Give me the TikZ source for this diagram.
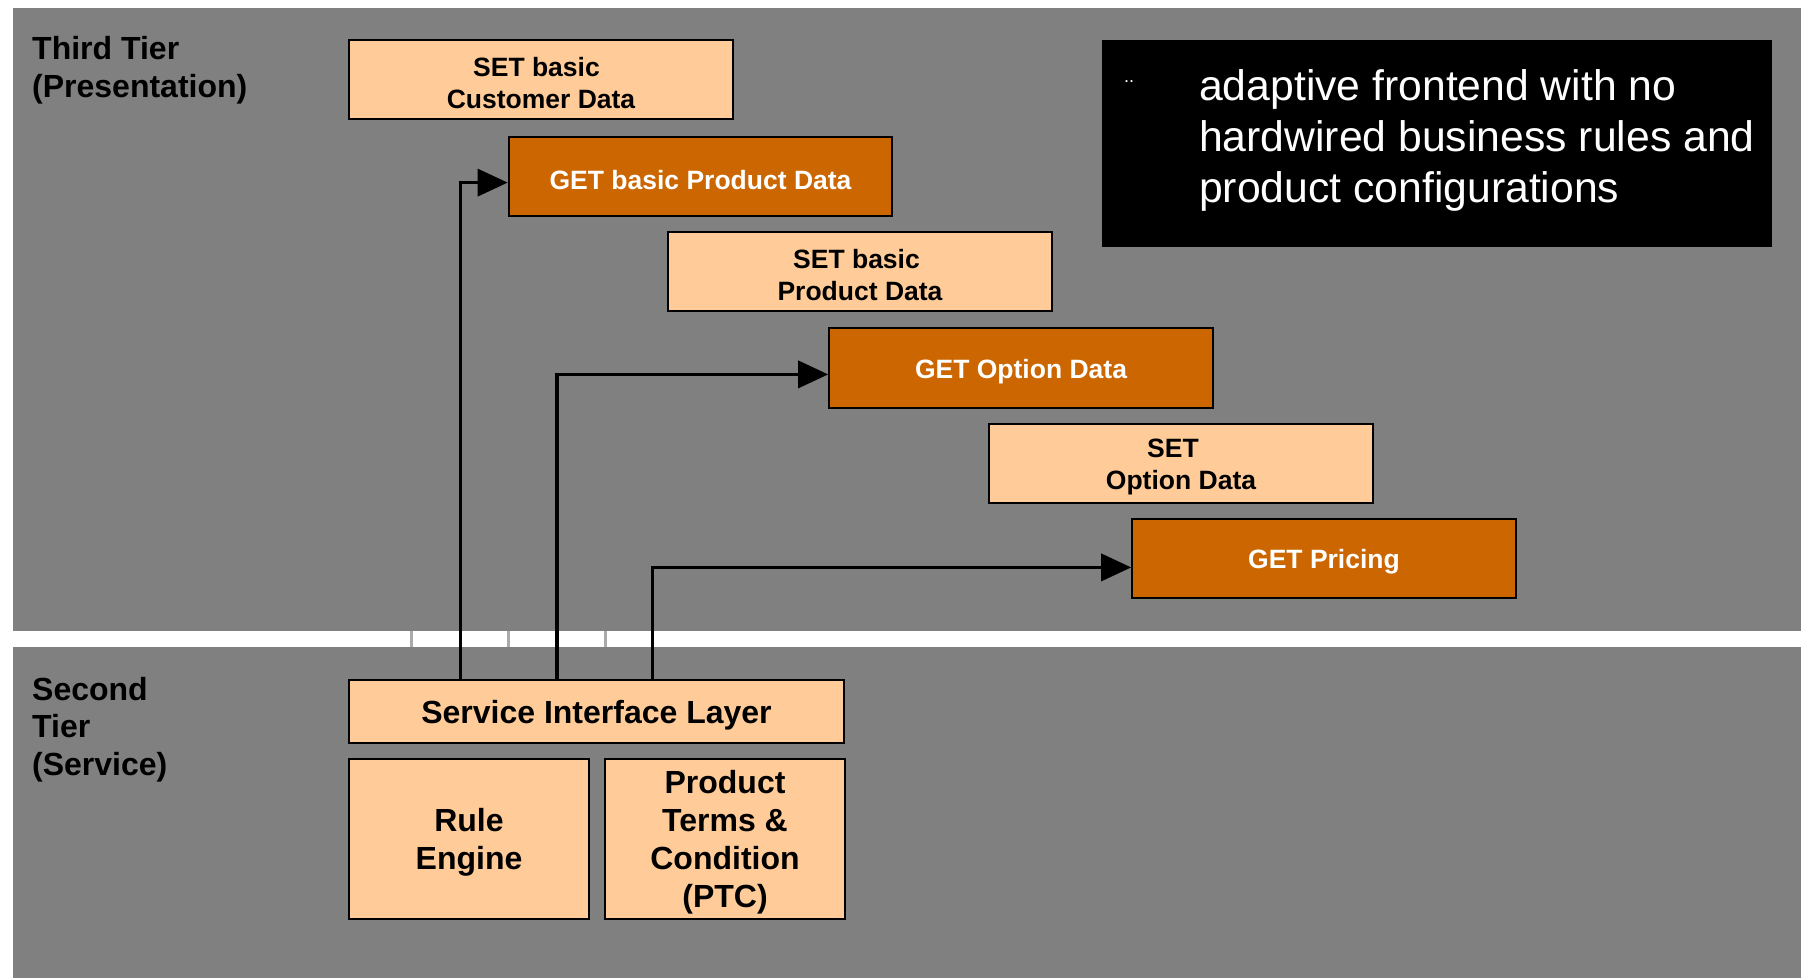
\documentclass[tikz,border=0pt]{standalone}
\usepackage{fontspec}
\setmainfont{Liberation Sans}
\usetikzlibrary{arrows.meta}
\definecolor{panelgray}{RGB}{128,128,128}
\definecolor{lightbox}{RGB}{255,204,153}
\definecolor{darkorange}{RGB}{204,102,0}
\definecolor{tickgray}{RGB}{170,170,170}
\begin{document}
\begin{tikzpicture}[x=1pt,y=-1pt,
  box/.style={draw=black, line width=2pt, minimum width=383.6pt, minimum height=79.3pt, inner sep=0pt},
  setbox/.style={box, fill=lightbox},
  getbox/.style={box, fill=darkorange},
  boxtext/.style={inner sep=0pt, align=center, yshift=-3.5pt, font=\bfseries\fontsize{26.5}{32}\selectfont},
  settext/.style={boxtext, text=black},
  gettext/.style={boxtext, text=white},
  svcbox/.style={draw=black, line width=2pt, fill=lightbox, inner sep=0pt},
  svctext/.style={inner sep=0pt, align=center, yshift=-3.5pt, font=\bfseries\fontsize{32}{38}\selectfont},
  tierlabel/.style={anchor=west, align=left, inner sep=0pt, font=\bfseries\fontsize{32}{37.5}\selectfont},
  arr/.style={line width=3.5pt, -{Triangle[length=30pt,width=27pt]}},
  tick/.style={draw=tickgray, line width=3pt}
]
\useasboundingbox (0,0) rectangle (1801,978);
\fill[white] (0,0) rectangle (1801,978);
% panels
\fill[panelgray] (12.6,8) rectangle (1801,631);
\fill[panelgray] (12.6,647) rectangle (1801,978);
% ticks in the gap
\draw[tick] (411,631) -- (411,647);
\draw[tick] (508,631) -- (508,647);
\draw[tick] (605,631) -- (605,647);

% tier labels
\node[tierlabel] (third) at (32,70) {Third Tier\\(Presentation)};
\node[tierlabel] (second) at (32,729.5) {Second\\Tier\\(Service)};

% presentation boxes
\node[setbox] (sbc) at (541,79.75) {};
\node[settext] (sbc-t) at (sbc.center) {SET basic\hspace*{9pt}\\Customer Data};
\node[getbox] (gbp) at (700.5,176.5) {};
\node[gettext] (gbp-t) at (gbp.center) {GET basic Product Data};
\node[setbox] (sbp) at (860,271.5) {};
\node[settext] (sbp-t) at (sbp.center) {SET basic\hspace*{7pt}\\Product Data};
\node[getbox] (god) at (1021,368) {};
\node[gettext] (god-t) at (god.center) {GET Option Data};
\node[setbox] (sod) at (1181,463.5) {};
\node[settext] (sod-t) at (sod.center) {SET\hspace*{16pt}\\Option Data};
\node[getbox] (gpr) at (1324,558.5) {};
\node[gettext] (gpr-t) at (gpr.center) {GET Pricing};

% note box
\node[fill=black, minimum width=670.5pt, minimum height=207pt, inner sep=0pt] (note) at (1436.75,143.5) {};
\node[text=white, anchor=west, align=left, inner sep=0pt, font=\fontsize{42.7}{51}\selectfont] (notetext) at (1199,140.5)
  {adaptive frontend with no\\hardwired business rules and\\product configurations};
\node[text=white, inner sep=0pt, font=\fontsize{18}{18}\selectfont] (bullet) at (1129,82) {..};

% service tier boxes
\node[svcbox, minimum width=495pt, minimum height=63pt] (sil) at (596.5,711.5) {};
\node[svctext] (sil-t) at (sil.center) {Service Interface Layer};
\node[svcbox, minimum width=240pt, minimum height=160pt] (rule) at (469,839) {};
\node[svctext] (rule-t) at (rule.center) {Rule\\Engine};
\node[svcbox, minimum width=240pt, minimum height=160pt] (ptc) at (725,839) {};
\node[svctext] (ptc-t) at (ptc.center) {Product\\Terms \&\\Condition\\(PTC)};

% connectors
\coordinate (t1) at (460.6,182.6);
\coordinate (t2) at (557,374.4);
\coordinate (t3) at (652.4,567.4);
\draw[arr] (sil.north -| t1) |- (gbp.west |- t1);
\draw[arr] (sil.north -| t2) |- (god.west |- t2);
\draw[arr] (sil.north -| t3) |- (gpr.west |- t3);
\end{tikzpicture}
\end{document}
